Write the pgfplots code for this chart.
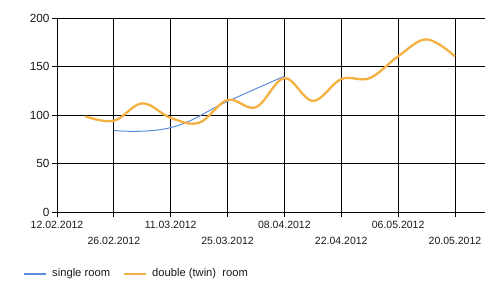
\documentclass[border=0pt]{standalone}
\usepackage{pgfplots}
\pgfplotsset{compat=1.18}
\usepackage{fontspec}
\setmainfont{Liberation Sans}
\definecolor{sblue}{HTML}{5B8DDB}
\definecolor{dorange}{HTML}{F4B040}
\definecolor{txt}{HTML}{1A1A1A}
\begin{document}
\begin{tikzpicture}[x=1pt,y=1pt]
\useasboundingbox (0,0) rectangle (500,296);
\begin{axis}[
  at={(57pt,84pt)}, anchor=south west,
  width=428pt, height=194pt, scale only axis,
  xmin=0, xmax=105.4, ymin=0, ymax=200,
  axis x line=bottom, axis y line=left,
  axis line style={-, black, line width=0.9pt},
  xtick={0,28,56,84},
  xticklabels={12.02.2012,11.03.2012,08.04.2012,06.05.2012},
  extra x ticks={14,42,70,98},
  extra x tick labels={26.02.2012,25.03.2012,22.04.2012,20.05.2012},
  extra x tick style={grid=major, tick label style={yshift=-15.7pt}},
  ytick={0,50,100,150,200},
  grid=major,
  major grid style={black, line width=0.9pt},
  tick style={black, line width=0.9pt},
  tick align=outside, major tick length=5pt,
  /pgf/number format/assume math mode=true,
  x tick label style={font=\fontsize{10.5}{12}\selectfont, text=txt, yshift=-1pt},
  y tick label style={font=\fontsize{11.8}{13}\selectfont, text=txt, xshift=1pt},
  legend style={at={(-0.0794,-0.318)}, anchor=west, draw=none, fill=none,
    legend columns=2, inner sep=0pt,
    nodes={inner sep=0pt, font=\fontsize{11.2}{13}\selectfont, text=txt},
    /tikz/every odd column/.append style={column sep=5pt},
    /tikz/every even column/.append style={column sep=13pt}},
  legend image code/.code={\draw[#1, line width=2pt] (0pt,0pt) -- (22pt,0pt);},
  clip=false,
]
\addplot[sblue, line width=1pt, smooth, tension=0.75] coordinates {
  (14,84) (28,87) (42,114) (56,140)
};
\addlegendentry{single room}
\addplot[dorange, line width=2.3pt, smooth, tension=0.6] coordinates {
  (7,98.5) (14,94) (21,112) (28,97) (35,92) (42,115.5) (49,108)
  (56,138) (63,114.5) (70,137) (77,138) (84,160.5) (91,178) (98,160.5)
};
\addlegendentry{double (twin)\ \ room}
\end{axis}
\end{tikzpicture}
\end{document}
